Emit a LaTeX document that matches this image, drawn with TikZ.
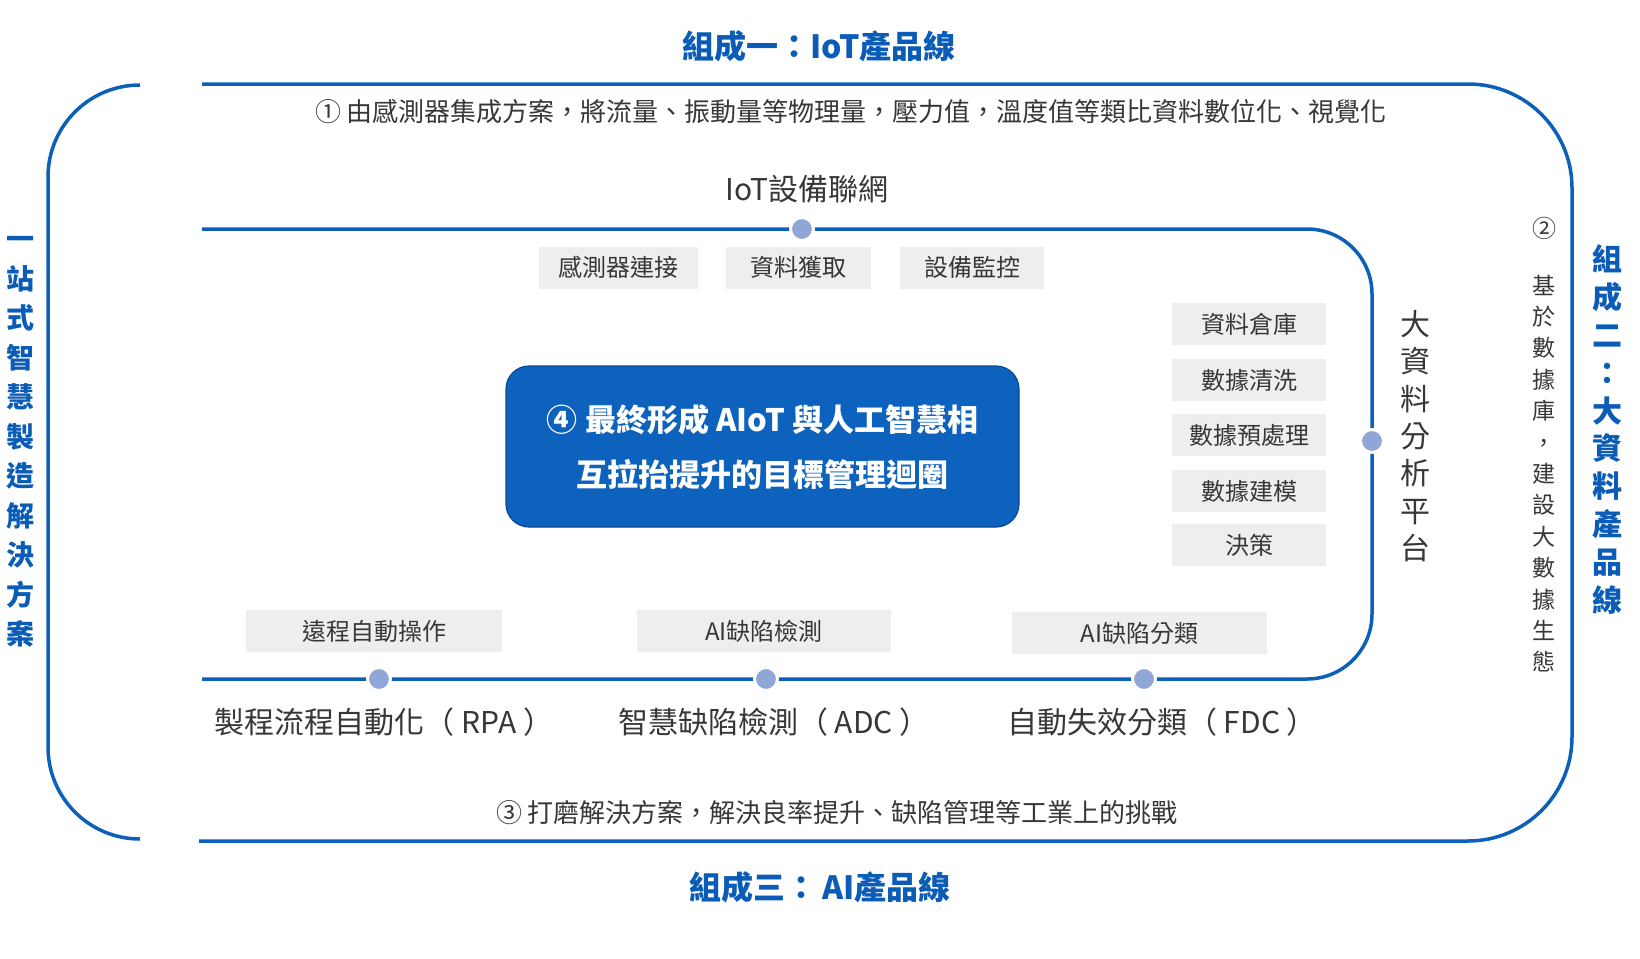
\documentclass[tikz,border=0pt]{standalone}
\usepackage{fontspec}
\setmainfont{Noto Sans CJK TC}
\definecolor{lineblue}{RGB}{12,96,186}
\definecolor{titleblue}{RGB}{10,92,182}
\definecolor{boxblue}{RGB}{12,98,188}
\definecolor{boxedge}{RGB}{8,72,150}
\definecolor{dotc}{RGB}{143,166,214}
\definecolor{txt}{RGB}{55,55,55}
\definecolor{graybox}{RGB}{238,238,238}
\tikzset{
  frame/.style={draw=lineblue, line width=1.75pt, line join=round},
  dotnode/.style={circle, fill=dotc, draw=white, line width=1.5pt, minimum size=11.5pt, inner sep=0pt},
  tag/.style={fill=graybox, text=txt, inner sep=0pt, minimum height=21pt, font=\fontsize{12pt}{14pt}\selectfont},
  title/.style={text=titleblue, font=\fontsize{16pt}{18pt}\selectfont\bfseries, inner sep=0pt},
  note/.style={text=txt, font=\fontsize{13pt}{16pt}\selectfont, inner sep=0pt},
  label/.style={text=txt, font=\fontsize{15pt}{18pt}\selectfont, inner sep=0pt},
}
\begin{document}
\begin{tikzpicture}[x=0.5pt,y=-0.5pt]
\useasboundingbox (0,0) rectangle (1640,959);
\fill[white] (0,0) rectangle (1640,959);

% frames
\draw[frame, rounded corners=46pt] (140,85) -- (48,85) -- (48,839) -- (140,839);
\draw[frame, rounded corners=52pt] (202,84) -- (1572,84) -- (1572,841) -- (199,841);
\draw[frame, rounded corners=32.5pt] (202,229) -- (1372,229) -- (1372,679) -- (202,679);

% dots
\node[dotnode] (d0) at (802,229) {};
\node[dotnode] (d1) at (1372,441) {};
\node[dotnode] (d2) at (379,679) {};
\node[dotnode] (d3) at (766,679) {};
\node[dotnode] (d4) at (1144,679) {};

% titles
\node[title] (t1) at (819,46) {組成一：IoT產品線};
\node[title] (t3) at (820,887) {組成三：\,AI產品線};

% notes
\node[note] (n1) at (851,112) {① 由感測器集成方案，將流量、振動量等物理量，壓力值，溫度值等類比資料數位化、視覺化};
\node[note] (n3) at (837,813) {③ 打磨解決方案，解決良率提升、缺陷管理等工業上的挑戰};

% IoT
\node[label] (iot) at (807,189) {IoT設備聯網};
\node[tag, minimum width=79.5pt] (b1) at (618.5,267.5) {感測器連接};
\node[tag, minimum width=72.5pt] (b2) at (798.5,267.5) {資料獲取};
\node[tag, minimum width=72pt] (b3) at (972,267.5) {設備監控};

% big data column
\node[tag, minimum width=77pt] (r1) at (1249,324) {資料倉庫};
\node[tag, minimum width=77pt] (r2) at (1249,380) {數據清洗};
\node[tag, minimum width=77pt] (r3) at (1249,435) {數據預處理};
\node[tag, minimum width=77pt] (r4) at (1249,491) {數據建模};
\node[tag, minimum width=77pt] (r5) at (1249,545) {決策};

% bottom tags
\node[tag, minimum width=128pt] (c1) at (374,631) {遠程自動操作};
\node[tag, minimum width=127pt] (c2) at (764,631) {AI缺陷檢測};
\node[tag, minimum width=127.5pt] (c3) at (1139.5,633) {AI缺陷分類};

% bottom labels
\node[label] (l1) at (384,722) {製程流程自動化（ RPA ）};
\node[label] (l2) at (774,722) {智慧缺陷檢測（ ADC ）};
\node[label] (l3) at (1162,722) {自動失效分類（ FDC ）};

% centre box
\node[fill=boxblue, draw=boxedge, line width=0.6pt, rounded corners=11.5pt,
      minimum width=256.5pt, minimum height=80.5pt, inner sep=0pt] (core) at (762.5,446.5) {};
\node[text=white, font=\fontsize{15.5pt}{27.5pt}\selectfont\bfseries, align=center, inner sep=0pt]
      (coretext) at (core.center) {④ 最終形成 AIoT 與人工智慧相\\互拉抬提升的目標管理迴圈};

% vertical texts
\node[text=titleblue, font=\fontsize{14pt}{19.75pt}\selectfont\bfseries, align=center, inner sep=0pt]
  (left) at (20,442) {一\\站\\式\\智\\慧\\製\\造\\解\\決\\方\\案};
\node[text=txt, font=\fontsize{15pt}{18.65pt}\selectfont, align=center, inner sep=0pt]
  (bdp) at (1415,436) {大\\資\\料\\分\\析\\平\\台};
\node[text=txt, font=\fontsize{12pt}{14pt}\selectfont, inner sep=0pt] (c2num) at (1544,228) {②};
\node[text=txt, font=\fontsize{11.5pt}{15.7pt}\selectfont, align=center, inner sep=0pt]
  (n2) at (1544,473.5) {基\\於\\數\\據\\庫\\，\\建\\設\\大\\數\\據\\生\\態};
\node[text=titleblue, font=\fontsize{15pt}{18.95pt}\selectfont\bfseries, align=center, inner sep=0pt]
  (t2) at (1607,429.5) {組\\成\\二\\：\\大\\資\\料\\產\\品\\線};
\end{tikzpicture}
\end{document}
